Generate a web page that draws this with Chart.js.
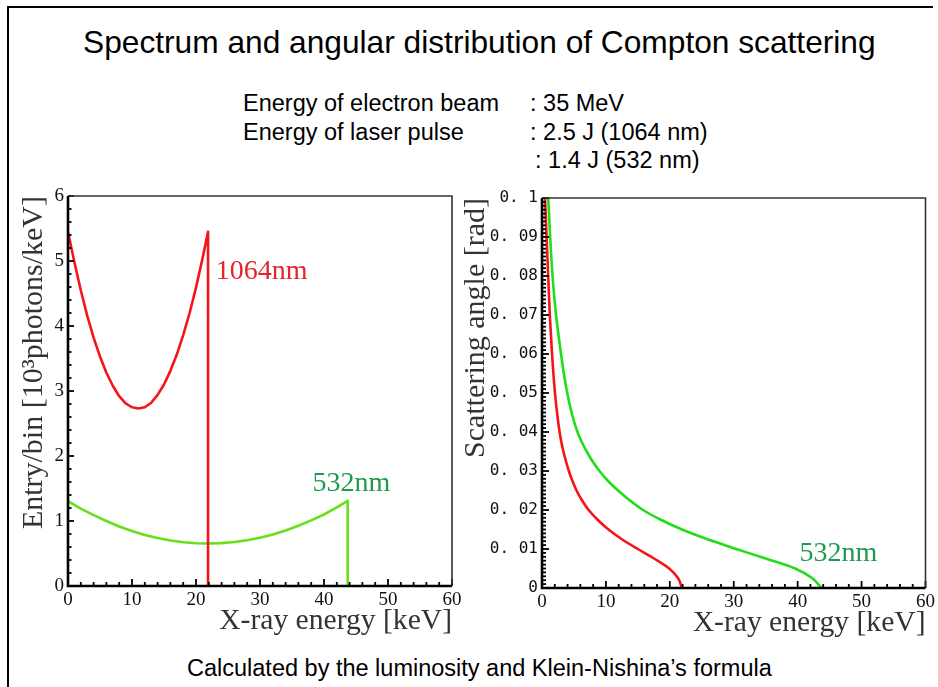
<!DOCTYPE html>
<html>
<head>
<meta charset="utf-8">
<title>Compton scattering</title>
<script src="https://cdn.jsdelivr.net/npm/chart.js@4.4.1/dist/chart.umd.min.js"></script>
<style>
  body { margin: 0; background: #fff; }
  #page { position: relative; width: 938px; height: 687px; overflow: hidden; background: #fff;
          font-family: "Liberation Sans", Arial, sans-serif; color: #000; }
  .txt { position: absolute; white-space: nowrap; }
  .info { font-size: 23.5px; line-height: 28px; }
  .box { position: absolute; }
</style>
</head>
<body>
<div id="page">
  <div class="box" style="left:7px; top:6px; width:926px; height:2px; background:#000;"></div>
  <div class="box" style="left:7px; top:6px; width:2px; height:681px; background:#000;"></div>

  <div class="txt" style="left:83px; top:23px; font-size:31.7px; line-height:38px;">Spectrum and angular distribution of Compton scattering</div>

  <div class="txt info" style="left:243px; top:89px;">Energy of electron beam</div>
  <div class="txt info" style="left:530px; top:89px;">: 35 MeV</div>
  <div class="txt info" style="left:243px; top:118px;">Energy of laser pulse</div>
  <div class="txt info" style="left:530px; top:118px;">: 2.5 J (1064 nm)</div>
  <div class="txt info" style="left:535px; top:146px;">: 1.4 J (532 nm)</div>

  <div class="txt info" style="left:187px; top:654px;">Calculated by the luminosity and Klein-Nishina’s formula</div>

  <div class="box" style="left:0px; top:180px;"><canvas id="spectrumChart" width="470" height="460"></canvas></div>
  <div class="box" style="left:460px; top:180px;"><canvas id="angleChart" width="478" height="460"></canvas></div>
</div>

<script>
// SPECTRUM - 1064 nm laser (red)
var redEnergy = [0, 1, 2, 3, 4, 5, 6, 7, 8, 9, 10, 11, 12, 13, 14, 15, 16, 17, 18, 19, 20, 21, 21.88, 21.88];
var redEntry  = [5.45, 4.98, 4.55, 4.16, 3.82, 3.53, 3.28, 3.08, 2.92, 2.81, 2.75, 2.73, 2.75, 2.82, 2.94, 3.10, 3.31, 3.56, 3.86, 4.20, 4.59, 5.03, 5.45, 0];

// SPECTRUM - 532 nm laser (green)
var greenEnergy = [0, 2, 4, 6, 8, 10, 12, 14, 16, 18, 20, 22, 24, 26, 28, 30, 32, 34, 36, 38, 40, 42, 43.7, 43.7];
var greenEntry  = [1.305, 1.19, 1.09, 1.00, 0.915, 0.845, 0.785, 0.737, 0.70, 0.673, 0.657, 0.653, 0.659, 0.676, 0.704, 0.743, 0.793, 0.854, 0.926, 1.01, 1.10, 1.21, 1.31, 0];

// ANGULAR DISTRIBUTION - scattering angle [rad] vs x-ray energy [keV]
var scatterAngle = [0, 0.0025, 0.005, 0.0075, 0.01, 0.0125, 0.015, 0.0175, 0.02, 0.0225, 0.025, 0.0275, 0.03, 0.0325,
                    0.035, 0.0375, 0.04, 0.045, 0.05, 0.055, 0.06, 0.07, 0.08, 0.09, 0.1];
var redAngleEnergy   = [21.9, 21.3, 19.9, 17.6, 15.0, 12.5, 10.4, 8.7, 7.3, 6.25, 5.4, 4.75, 4.2, 3.75,
                        3.35, 3.02, 2.75, 2.35, 2.03, 1.78, 1.57, 1.22, 0.97, 0.72, 0.47];
var greenAngleEnergy = [43.7, 42.3, 39.6, 35.1, 30.4, 25.9, 21.9, 18.6, 15.8, 13.7, 11.9, 10.3, 9.0, 7.9,
                        7.0, 6.2, 5.55, 4.63, 3.95, 3.42, 2.98, 2.2, 1.65, 1.28, 0.97];

// tick labels
var energyTicks = [0, 10, 20, 30, 40, 50, 60];
var entryTicks = [0, 1, 2, 3, 4, 5, 6];
var angleTicks = [0, 0.01, 0.02, 0.03, 0.04, 0.05, 0.06, 0.07, 0.08, 0.09, 0.1];
var angleTickLabels = ['0', '0. 01', '0. 02', '0. 03', '0. 04', '0. 05', '0. 06', '0. 07', '0. 08', '0. 09', '0. 1'];

var SERIF = '"Liberation Serif", "Times New Roman", serif';
Chart.defaults.font.family = SERIF;
Chart.defaults.animation = false;

function pairs(xs, ys) {
    return xs.map(function (x, i) { return {x: x, y: ys[i]}; });
}

// ROOT-style ticks pointing into the plot, plus the frame
function innerTicks(o) {
    return {
        id: 'innerTicks',
        afterDatasetsDraw: function (chart) {
            var ctx = chart.ctx, a = chart.chartArea, sx = chart.scales.x, sy = chart.scales.y;
            ctx.save();
            ctx.strokeStyle = '#000';
            ctx.lineWidth = o.tickWidth;
            var n = Math.round((sx.max - sx.min) / o.xMinor), every = Math.round(o.xMajor / o.xMinor);
            for (var i = 0; i <= n; i++) {
                var px = sx.getPixelForValue(sx.min + i * o.xMinor);
                var len = (i % every === 0) ? o.xMajorLen : o.xMinorLen;
                ctx.beginPath(); ctx.moveTo(px, a.bottom); ctx.lineTo(px, a.bottom - len); ctx.stroke();
            }
            n = Math.round((sy.max - sy.min) / o.yMinor); every = Math.round(o.yMajor / o.yMinor);
            for (var j = 0; j <= n; j++) {
                var py = sy.getPixelForValue(sy.min + j * o.yMinor);
                var l2 = (j % every === 0) ? o.yMajorLen : o.yMinorLen;
                ctx.beginPath(); ctx.moveTo(a.left, py); ctx.lineTo(a.left + l2, py); ctx.stroke();
            }
            // thin top / right
            ctx.strokeStyle = '#333';
            ctx.lineWidth = 1.6;
            ctx.beginPath(); ctx.moveTo(a.left, a.top); ctx.lineTo(a.right, a.top); ctx.lineTo(a.right, a.bottom); ctx.stroke();
            // heavy left / bottom
            ctx.strokeStyle = '#000';
            ctx.lineWidth = 2.6;
            ctx.beginPath(); ctx.moveTo(a.left, a.top); ctx.lineTo(a.left, a.bottom); ctx.lineTo(a.right, a.bottom); ctx.stroke();
            ctx.restore();
        }
    };
}

// curve names written next to the lines
function lineLabels(items) {
    return {
        id: 'lineLabels',
        afterDatasetsDraw: function (chart) {
            var ctx = chart.ctx, sx = chart.scales.x, sy = chart.scales.y;
            ctx.save();
            ctx.font = '28px ' + SERIF;
            ctx.textBaseline = 'middle';
            ctx.textAlign = 'left';
            items.forEach(function (it) {
                ctx.fillStyle = it.color;
                ctx.fillText(it.text, sx.getPixelForValue(it.x), sy.getPixelForValue(it.y));
            });
            ctx.restore();
        }
    };
}

function axisTitle(text, size, pad) {
    return {display: true, text: text, align: 'end', color: '#333',
            font: {family: SERIF, size: size, lineHeight: 1}, padding: pad};
}

//CHART 1 - SPECTRUM
var chartOne = document.getElementById('spectrumChart').getContext('2d');
new Chart(chartOne, {
    type: 'scatter',
    data: {
        datasets: [{
            label: '1064nm',
            data: pairs(redEnergy, redEntry),
            showLine: true, borderColor: '#f5141a', borderWidth: 2.6, borderJoinStyle: 'round',
            pointRadius: 0, tension: 0
        }, {
            label: '532nm',
            data: pairs(greenEnergy, greenEntry),
            showLine: true, borderColor: '#66e01a', borderWidth: 2.6, borderJoinStyle: 'round',
            pointRadius: 0, tension: 0
        }]
    },
    options: {
        responsive: false,
        devicePixelRatio: 1,
        layout: {padding: {left: 0, right: 18, top: 16, bottom: 0}},
        plugins: {legend: {display: false}, tooltip: {enabled: false}},
        scales: {
            x: {
                type: 'linear', min: 0, max: 60,
                afterBuildTicks: function (s) { s.ticks = energyTicks.map(function (v) { return {value: v}; }); },
                afterFit: function (s) { s.height = 54; },
                grid: {display: false, drawTicks: false},
                border: {display: false},
                ticks: {color: '#111', padding: 3, maxRotation: 0, font: {size: 19}},
                title: axisTitle('X-ray energy [keV]', 29.6, {top: 0, bottom: 3.5})
            },
            y: {
                type: 'linear', min: 0, max: 6,
                afterBuildTicks: function (s) { s.ticks = entryTicks.map(function (v) { return {value: v}; }); },
                afterFit: function (s) { s.width = 68; },
                grid: {display: false, drawTicks: false},
                border: {display: false},
                ticks: {color: '#111', padding: 4, font: {size: 19}},
                title: axisTitle('Entry/bin [10\u00B3photons/keV]', 30, {top: 19, bottom: 0})
            }
        }
    },
    plugins: [
        innerTicks({xMinor: 2, xMajor: 10, xMajorLen: 7, xMinorLen: 4,
                    yMinor: 0.2, yMajor: 1, yMajorLen: 6, yMinorLen: 3.5, tickWidth: 1.8}),
        lineLabels([
            {text: '1064nm', x: 23.1, y: 4.84, color: '#e3262b'},
            {text: '532nm', x: 38.2, y: 1.58, color: '#1f9a4f'}
        ])
    ]
});

//CHART 2 - ANGULAR DISTRIBUTION
var chartTwo = document.getElementById('angleChart').getContext('2d');
new Chart(chartTwo, {
    type: 'scatter',
    data: {
        datasets: [{
            label: '1064nm',
            data: pairs(redAngleEnergy, scatterAngle),
            indexAxis: 'y', cubicInterpolationMode: 'monotone',
            showLine: true, borderColor: '#f5141a', borderWidth: 2.6, pointRadius: 0
        }, {
            label: '532nm',
            data: pairs(greenAngleEnergy, scatterAngle),
            indexAxis: 'y', cubicInterpolationMode: 'monotone',
            showLine: true, borderColor: '#22dd1a', borderWidth: 2.6, pointRadius: 0
        }]
    },
    options: {
        responsive: false,
        devicePixelRatio: 1,
        layout: {padding: {left: 0, right: 12, top: 18, bottom: 0}},
        plugins: {legend: {display: false}, tooltip: {enabled: false}},
        scales: {
            x: {
                type: 'linear', min: 0, max: 60,
                afterBuildTicks: function (s) { s.ticks = energyTicks.map(function (v) { return {value: v}; }); },
                afterFit: function (s) { s.height = 52; },
                grid: {display: false, drawTicks: false},
                border: {display: false},
                ticks: {color: '#111', padding: 3, maxRotation: 0, font: {size: 19}},
                title: axisTitle('X-ray energy [keV]', 29.6, {top: 0, bottom: 1.5})
            },
            y: {
                type: 'linear', min: 0, max: 0.1,
                afterBuildTicks: function (s) { s.ticks = angleTicks.map(function (v) { return {value: v}; }); },
                afterFit: function (s) { s.width = 82; },
                grid: {display: false, drawTicks: false},
                border: {display: false},
                ticks: {
                    color: '#111', padding: 4,
                    font: {family: '"DejaVu Sans Mono", monospace', size: 16},
                    callback: function (v, i) { return angleTickLabels[i]; }
                },
                title: axisTitle('Scattering angle [rad]', 30, {top: 1.5, bottom: 0})
            }
        }
    },
    plugins: [
        innerTicks({xMinor: 2, xMajor: 10, xMajorLen: 7, xMinorLen: 4,
                    yMinor: 0.001, yMajor: 0.01, yMajorLen: 7, yMinorLen: 4, tickWidth: 1.8}),
        lineLabels([
            {text: '532nm', x: 40.3, y: 0.0087, color: '#1f9a4f'}
        ])
    ]
});
</script>
</body>
</html>
